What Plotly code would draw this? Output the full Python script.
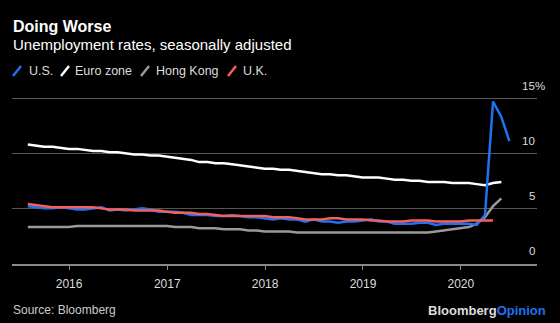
import pandas as pd
import plotly.graph_objects as go

# ---- data (monthly, month-end) ----
us_dates = pd.date_range("2015-07-31", periods=60, freq="ME")
us = [5.2, 5.1, 5.0, 5.0, 5.1, 5.0,
      4.9, 4.9, 5.0, 5.1, 4.8, 4.9, 4.8, 4.9, 5.0, 4.9, 4.7, 4.7,
      4.7, 4.6, 4.4, 4.4, 4.4, 4.3, 4.3, 4.4, 4.3, 4.2, 4.2, 4.1,
      4.0, 4.1, 4.0, 4.0, 3.8, 4.0, 3.8, 3.8, 3.7, 3.8, 3.8, 3.9,
      4.0, 3.8, 3.8, 3.6, 3.6, 3.6, 3.7, 3.7, 3.5, 3.6, 3.6, 3.6,
      3.6, 3.5, 4.4, 14.7, 13.3, 11.1]

ez_dates = pd.date_range("2015-07-31", periods=59, freq="ME")
euro = [10.8, 10.7, 10.6, 10.6, 10.5, 10.4,
        10.4, 10.3, 10.2, 10.2, 10.1, 10.1, 10.0, 9.9, 9.9, 9.8, 9.8, 9.7,
        9.6, 9.5, 9.4, 9.2, 9.2, 9.1, 9.1, 9.0, 8.9, 8.8, 8.7, 8.6,
        8.6, 8.5, 8.5, 8.4, 8.3, 8.2, 8.1, 8.1, 8.0, 8.0, 7.9, 7.8,
        7.8, 7.8, 7.7, 7.6, 7.6, 7.5, 7.5, 7.4, 7.4, 7.4, 7.3, 7.3,
        7.3, 7.2, 7.1, 7.3, 7.4]

hk_dates = pd.date_range("2015-07-31", periods=59, freq="ME")
hong_kong = [3.3, 3.3, 3.3, 3.3, 3.3, 3.3,
             3.4, 3.4, 3.4, 3.4, 3.4, 3.4, 3.4, 3.4, 3.4, 3.4, 3.4, 3.4,
             3.3, 3.3, 3.3, 3.2, 3.2, 3.2, 3.1, 3.1, 3.1, 3.0, 3.0, 2.9,
             2.9, 2.9, 2.9, 2.8, 2.8, 2.8, 2.8, 2.8, 2.8, 2.8, 2.8, 2.8,
             2.8, 2.8, 2.8, 2.8, 2.8, 2.8, 2.8, 2.8, 2.9, 3.0, 3.1, 3.2,
             3.3, 3.6, 4.2, 5.2, 5.9]

uk_dates = pd.date_range("2015-07-31", periods=58, freq="ME")
uk = [5.4, 5.3, 5.2, 5.1, 5.1, 5.1,
      5.1, 5.1, 5.1, 5.0, 4.9, 4.9, 4.9, 4.8, 4.8, 4.8, 4.8, 4.7,
      4.6, 4.6, 4.6, 4.5, 4.5, 4.4, 4.3, 4.3, 4.3, 4.3, 4.3, 4.3,
      4.2, 4.2, 4.2, 4.1, 4.0, 4.0, 4.0, 4.1, 4.1, 4.0, 4.0, 4.0,
      3.9, 3.9, 3.8, 3.8, 3.8, 3.9, 3.9, 3.9, 3.8, 3.8, 3.8, 3.8,
      3.9, 3.9, 3.9, 3.9]

y_tickvals = [0, 5, 10, 15]
y_ticktext = ["0", "5", "10", "15"]
y_unit = "%"
x_tickvals = ["2016-01-01", "2017-01-01", "2018-01-01", "2019-01-01", "2020-01-01"]
x_ticktext = ["2016", "2017", "2018", "2019", "2020"]

BLUE = "#1f72f2"
WHITE = "#ffffff"
GRAY = "#9a9a9a"
RED = "#f36060"
FONT = "Liberation Sans, Arial, sans-serif"

fig = go.Figure()
fig.add_trace(go.Scatter(x=hk_dates, y=hong_kong, mode="lines", name="Hong Kong",
                         line=dict(color=GRAY, width=2.5)))
fig.add_trace(go.Scatter(x=ez_dates, y=euro, mode="lines", name="Euro zone",
                         line=dict(color=WHITE, width=2.5)))
fig.add_trace(go.Scatter(x=us_dates, y=us, mode="lines", name="U.S.",
                         line=dict(color=BLUE, width=2.5)))
fig.add_trace(go.Scatter(x=uk_dates, y=uk, mode="lines", name="U.K.",
                         line=dict(color=RED, width=2.5)))

fig.update_layout(
    width=560, height=323,
    margin=dict(l=12, r=23, t=96, b=59),
    paper_bgcolor="#000000", plot_bgcolor="#000000",
    showlegend=False,
    font=dict(family=FONT, color="#dddddd", size=12),
)

fig.update_xaxes(
    type="date", range=["2015-06-02", "2020-10-11"],
    tickvals=x_tickvals, ticktext=x_ticktext,
    showgrid=False, zeroline=False,
    showline=True, linecolor="#8a8a8a", linewidth=1.5,
    ticks="outside", ticklen=4, tickcolor="#8a8a8a", tickwidth=1,
    ticklabelstandoff=4,
    tickfont=dict(size=12, color="#dddddd", family=FONT),
)
fig.update_yaxes(
    range=[-0.05, 15.2], side="right",
    tickvals=y_tickvals,
    showgrid=True, gridcolor="#555555", gridwidth=1,
    zeroline=False, showline=False, ticks="", showticklabels=False,
)

# y-axis value labels, placed on the y scale just above each gridline
for v, t in zip(y_tickvals, y_ticktext):
    fig.add_annotation(text=t, xref="paper", yref="y", x=1.0, y=v, yshift=12.5,
                       xanchor="right", yanchor="middle", showarrow=False,
                       font=dict(size=11.5, color="#dddddd", family=FONT))
fig.add_annotation(text=y_unit, xref="paper", yref="y", x=1.0, y=y_tickvals[-1], yshift=12.5,
                   xanchor="left", yanchor="middle", showarrow=False, xshift=-4,
                   font=dict(size=11.5, color="#dddddd", family=FONT))

def px_x(p):
    return (p - 12) / 525.0

def px_y(p):
    return (264 - p) / 168.0

ann = [
    dict(text="<b>Doing Worse</b>", x=px_x(11), y=px_y(27), size=16, color="#ffffff"),
    dict(text="Unemployment rates, seasonally adjusted", x=px_x(11), y=px_y(45), size=15, color="#ffffff"),
    dict(text="Source: Bloomberg", x=px_x(11), y=px_y(310), size=12, color="#cccccc"),
]
for a in ann:
    fig.add_annotation(text=a["text"], xref="paper", yref="paper", x=a["x"], y=a["y"],
                       xanchor="left", yanchor="middle", showarrow=False,
                       font=dict(size=a["size"], color=a["color"], family=FONT))

# legend: slanted key strokes + labels
legend_items = [("U.S.", BLUE, 13, 27), ("Euro zone", WHITE, 61, 73),
                ("Hong Kong", GRAY, 141, 154), ("U.K.", RED, 228, 241)]
for name, col, sx, tx in legend_items:
    fig.add_shape(type="line", xref="paper", yref="paper",
                  x0=px_x(sx), y0=px_y(76), x1=px_x(sx + 8), y1=px_y(66),
                  line=dict(color=col, width=2.5))
    fig.add_annotation(text=name, xref="paper", yref="paper", x=px_x(tx), y=px_y(71),
                       xanchor="left", yanchor="middle", showarrow=False,
                       font=dict(size=12.5, color="#dddddd", family=FONT))

fig.add_annotation(
    text=f'<b><span style="color:#dddddd">Bloomberg</span><span style="color:{BLUE}">Opinion</span></b>',
    xref="paper", yref="paper", x=px_x(548), y=px_y(310),
    xanchor="right", yanchor="middle", showarrow=False,
    font=dict(size=13, family=FONT))

fig.write_html("out.html")
